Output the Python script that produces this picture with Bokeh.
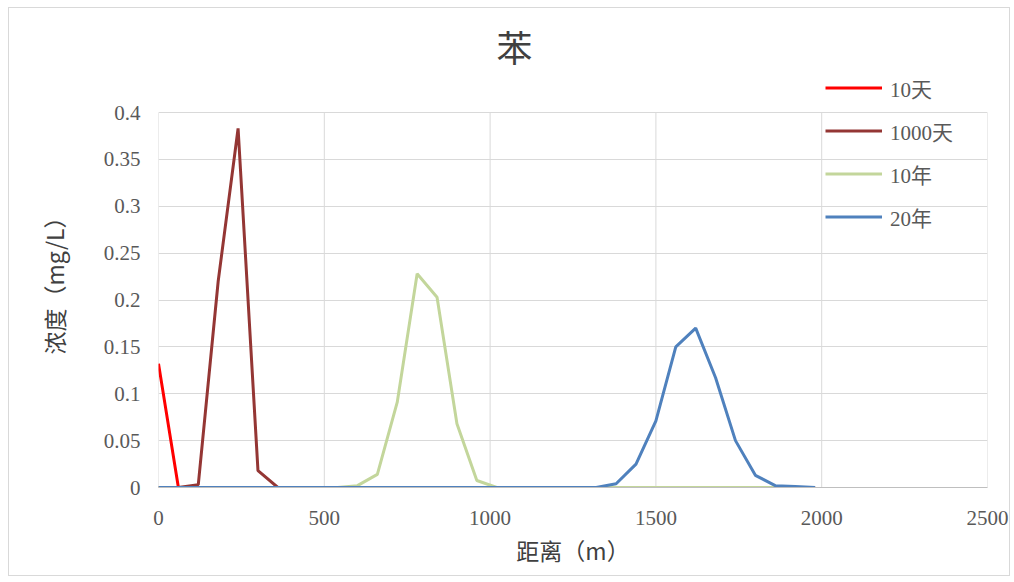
from bokeh.plotting import figure
from bokeh.models import Range1d, FixedTicker, NumeralTickFormatter, Legend, LegendItem, Title
from bokeh.embed import file_html
from bokeh.resources import INLINE

distance = [i * 60 for i in range(34)]  # 0..1980 m

def series(nonzero):
    return [nonzero.get(d, 0.0) for d in distance]

c_10d = series({0: 0.132})
c_1000d = series({120: 0.003, 180: 0.22, 240: 0.383, 300: 0.018})
c_10y = series({600: 0.002, 660: 0.014, 720: 0.091, 780: 0.228, 840: 0.203, 900: 0.068, 960: 0.0075})
c_20y = series({1380: 0.004, 1440: 0.025, 1500: 0.071, 1560: 0.150, 1620: 0.170, 1680: 0.117,
                1740: 0.050, 1800: 0.013, 1860: 0.002, 1920: 0.001})

names = ["10天", "1000天", "10年", "20年"]
colors = ["#FF0000", "#943634", "#C3D69B", "#4F81BD"]
values = [c_10d, c_1000d, c_10y, c_20y]

x_ticks = [0, 500, 1000, 1500, 2000, 2500]
y_ticks = [0, 0.05, 0.1, 0.15, 0.2, 0.25, 0.3, 0.35, 0.4]
y_top = 0.4

serif = "'Liberation Serif', 'Noto Sans CJK SC'"
cjk = "'Noto Sans CJK SC'"

# frame extends a little above 0.4 so the legend (which overlaps the top) is not clipped
p = figure(frame_width=829, frame_height=415, output_backend="svg", toolbar_location=None,
           x_range=Range1d(0, 2500), y_range=Range1d(0, y_top * 415 / 375),
           min_border_left=149, min_border_right=22, min_border_top=64, min_border_bottom=88)
p.styles = {"border": "1px solid #d9d9d9", "margin": "7px 0 0 8px"}
p.outline_line_color = None
p.background_fill_color = "white"

t = Title(text="苯", align="left", offset=338, text_font_size="36px", text_font=cjk,
          text_color="#404040", text_font_style="normal", standoff=1)
p.add_layout(t, "above")

# vertical gridlines only up to 0.4
p.xgrid.visible = False
p.segment(x0=x_ticks, y0=[0] * len(x_ticks), x1=x_ticks, y1=[y_top] * len(x_ticks),
          line_color="#d9d9d9", line_width=1)

renderers = []
for nm, col, val in zip(names, colors, values):
    r = p.line(distance, val, line_color=col, line_width=3)
    renderers.append((nm, r))

p.xaxis.ticker = FixedTicker(ticks=x_ticks)
p.yaxis.ticker = FixedTicker(ticks=y_ticks)
p.yaxis.formatter = NumeralTickFormatter(format="0.[00]")
for ax in (p.xaxis, p.yaxis):
    ax.major_tick_line_color = None
    ax.minor_tick_line_color = None
    ax.major_label_text_font = serif
    ax.major_label_text_font_size = "21px"
    ax.major_label_text_color = "#595959"
    ax.axis_label_text_font = cjk
    ax.axis_label_text_font_size = "23px"
    ax.axis_label_text_color = "#404040"
    ax.axis_label_text_font_style = "normal"
p.xaxis.axis_line_color = "#bfbfbf"
p.yaxis.axis_line_color = None
p.xaxis.axis_label = "距离（m）"
p.yaxis.axis_label = "浓度（mg/L）"
p.xaxis.major_label_standoff = 17
p.yaxis.major_label_standoff = 12
p.xaxis.axis_label_standoff = 5
p.yaxis.axis_label_standoff = 30

p.ygrid.grid_line_color = "#d9d9d9"
p.ygrid.grid_line_width = 1

legend = Legend(items=[LegendItem(label=nm, renderers=[r]) for nm, r in renderers],
                location=(667, 255), orientation="vertical",
                label_text_font=serif, label_text_font_size="21px", label_text_color="#595959",
                glyph_width=57, glyph_height=31, label_height=31, spacing=12,
                padding=0, margin=0, label_standoff=8,
                background_fill_alpha=0, border_line_color=None)
p.add_layout(legend, "center")

open("out.html", "w").write(file_html(p, INLINE))
